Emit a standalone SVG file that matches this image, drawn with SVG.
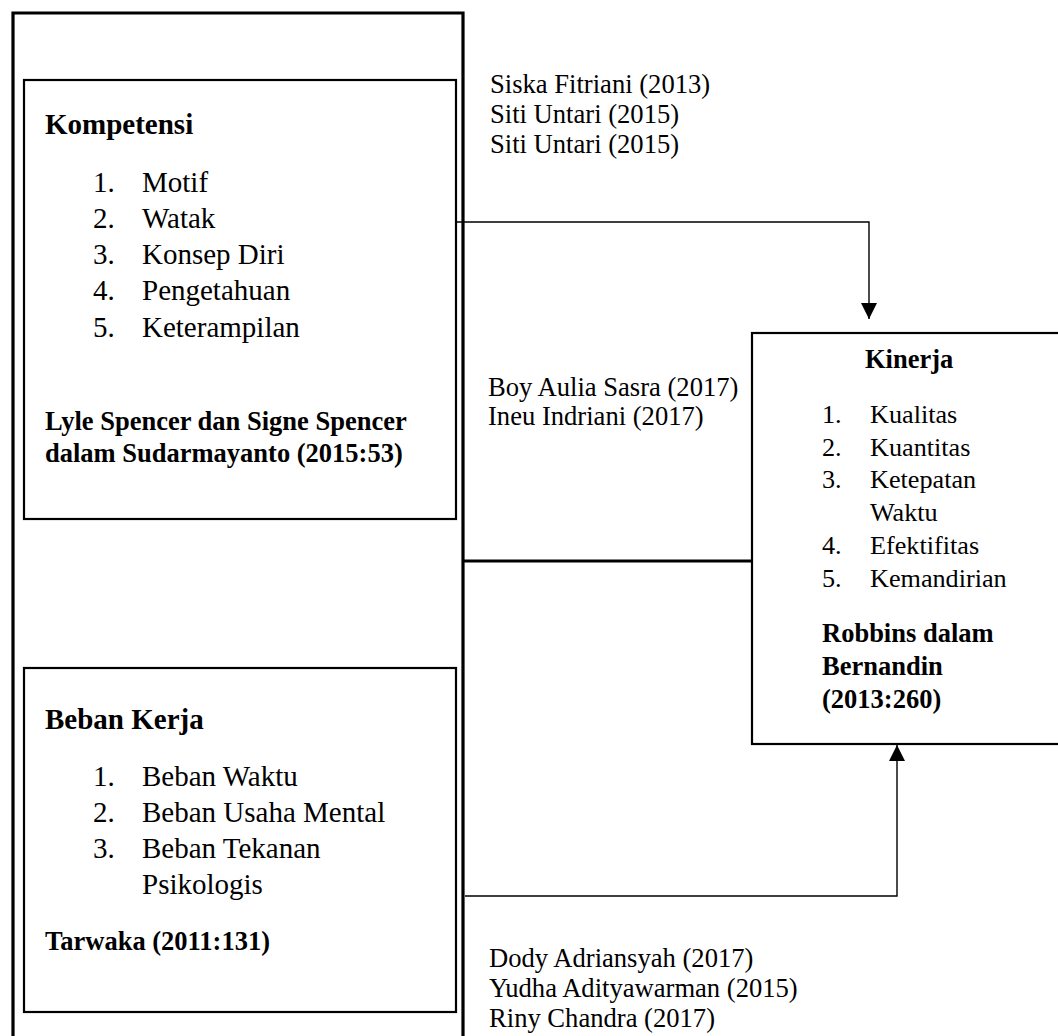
<svg xmlns="http://www.w3.org/2000/svg" width="1058" height="1036" viewBox="0 0 1058 1036">
<defs>
<style>
text{font-family:"Liberation Serif","Times New Roman",serif;fill:#000}
.b{font-weight:bold;font-size:26.5px}
.h{font-weight:bold;font-size:29px}
.i{font-size:29px}
.k{font-size:26.2px}
.s{font-size:26.6px}
.box{fill:#fff;stroke:#000;stroke-width:2.2}
.outer{fill:none;stroke:#000;stroke-width:3.2}
.ln{fill:none;stroke:#000;stroke-width:1.4}
.thick{fill:none;stroke:#000;stroke-width:3}
</style>
<marker id="ah" markerWidth="16" markerHeight="16" refX="16" refY="8" orient="auto" markerUnits="userSpaceOnUse">
<path d="M0,0 L16,8 L0,16 Z" fill="#000"/>
</marker>
</defs>
<rect width="1058" height="1036" fill="#fff"/>
<g id="frame">
<path class="outer" d="M13,1040 V13 H463 V1040"/>
</g>
<g id="connectors">
<path class="ln" d="M456,222 H869 V319" marker-end="url(#ah)"/>
<path class="thick" d="M464,561 H752"/>
<path class="ln" d="M465,896 H897 V745" marker-end="url(#ah)"/>
</g>
<g id="kompetensi">
<rect class="box" x="24" y="80" width="432" height="439"/>
<text class="h" x="45" y="134">Kompetensi</text>
<text class="i" x="93" y="192">1.</text><text class="i" x="142" y="192">Motif</text>
<text class="i" x="93" y="228">2.</text><text class="i" x="142" y="228">Watak</text>
<text class="i" x="93" y="264">3.</text><text class="i" x="142" y="264">Konsep Diri</text>
<text class="i" x="93" y="300">4.</text><text class="i" x="142" y="300">Pengetahuan</text>
<text class="i" x="93" y="337">5.</text><text class="i" x="142" y="337">Keterampilan</text>
<text class="b" x="45" y="430">Lyle Spencer dan Signe Spencer</text>
<text class="b" x="45" y="462">dalam Sudarmayanto (2015:53)</text>
</g>
<g id="beban-kerja">
<rect class="box" x="24" y="668" width="432" height="344"/>
<text class="h" x="45" y="729">Beban Kerja</text>
<text class="i" x="93" y="786">1.</text><text class="i" x="142" y="786">Beban Waktu</text>
<text class="i" x="93" y="822">2.</text><text class="i" x="142" y="822">Beban Usaha Mental</text>
<text class="i" x="93" y="858">3.</text><text class="i" x="142" y="858">Beban Tekanan</text>
<text class="i" x="142" y="894">Psikologis</text>
<text class="b" x="45" y="950">Tarwaka (2011:131)</text>
</g>
<g id="kinerja">
<rect class="box" x="752" y="333" width="320" height="411"/>
<text class="b" x="865" y="368">Kinerja</text>
<text class="k" x="822" y="423">1.</text><text class="k" x="870" y="423">Kualitas</text>
<text class="k" x="822" y="456">2.</text><text class="k" x="870" y="456">Kuantitas</text>
<text class="k" x="822" y="488">3.</text><text class="k" x="870" y="488">Ketepatan</text>
<text class="k" x="870" y="521">Waktu</text>
<text class="k" x="822" y="554">4.</text><text class="k" x="870" y="554">Efektifitas</text>
<text class="k" x="822" y="587">5.</text><text class="k" x="870" y="587">Kemandirian</text>
<text class="b" x="822" y="642">Robbins dalam</text>
<text class="b" x="822" y="675">Bernandin</text>
<text class="b" x="822" y="708">(2013:260)</text>
</g>
<g id="refs-top">
<text class="s" x="490" y="93">Siska Fitriani (2013)</text>
<text class="s" x="490" y="123">Siti Untari (2015)</text>
<text class="s" x="490" y="153">Siti Untari (2015)</text>
</g>
<g id="refs-mid">
<text class="s" x="488" y="396">Boy Aulia Sasra (2017)</text>
<text class="s" x="488" y="425">Ineu Indriani (2017)</text>
</g>
<g id="refs-bottom">
<text class="s" x="489" y="967">Dody Adriansyah (2017)</text>
<text class="s" x="489" y="997">Yudha Adityawarman (2015)</text>
<text class="s" x="489" y="1027">Riny Chandra (2017)</text>
</g>
</svg>
